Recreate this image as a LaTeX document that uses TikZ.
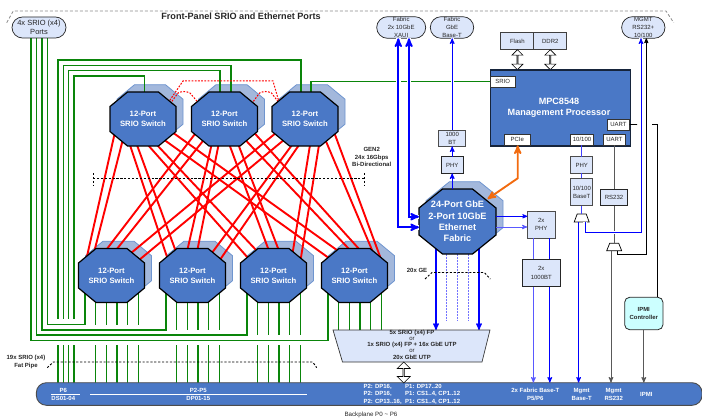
\documentclass[tikz,border=0pt]{standalone}
\usepackage{fontspec}
\setmainfont{Liberation Sans}
\usetikzlibrary{arrows,backgrounds,shapes.misc,shapes.arrows}
\definecolor{swblue}{HTML}{4A78C6}
\definecolor{shblue}{HTML}{A3B8DC}
\definecolor{shedge}{HTML}{6F95CF}
\definecolor{boxblue}{HTML}{DCE6FA}
\definecolor{srgreen}{HTML}{0A850A}
\definecolor{ipmicyan}{HTML}{CCFFFF}
\definecolor{pcorange}{HTML}{F26B0F}
\tikzset{
  treebox/.style = {inner sep=0pt, outer sep=0pt, align=center, text=black!85},
  sw_n/.style = {treebox, rectangle, minimum width=66pt, minimum height=54pt, text=white,
    font=\fontsize{7.7}{10}\selectfont\bfseries},% text of a switch
  fab_n/.style = {sw_n, minimum width=77pt, minimum height=65pt,
    font=\fontsize{9.2}{11.2}\selectfont\bfseries},
  oct_f/.style = {draw=black, line width=1.2pt, fill=swblue},% front of a switch
  oct_s/.style = {draw=shedge, line width=.8pt, fill=shblue},% shadow of a switch
  portbox/.style = {treebox, rounded rectangle, draw=black!85, line width=.7pt, fill=boxblue},
  portlabel/.style = {align=center, inner sep=0pt, text=black!85,
    font=\fontsize{6}{8.2}\selectfont},
  lbox/.style = {treebox, rectangle, draw=black!70, line width=1pt, fill=boxblue,
    font=\fontsize{6}{8.2}\selectfont},
  ibox/.style = {treebox, rectangle, draw=black!80, line width=.8pt, fill=white,
    minimum height=11pt, font=\fontsize{6}{8}\selectfont},
  muxbox/.style = {treebox, rectangle, minimum width=15pt},
  muxline/.style = {draw=black, line width=.7pt, fill=white},
  updown/.style = {double arrow, draw=black, line width=.6pt, fill=white, inner sep=0pt,
    outer sep=0pt, rotate=90, minimum height=20pt, minimum width=11pt,
    double arrow head extend=2.6pt, double arrow head indent=0pt},
  note/.style = {align=center, inner sep=0pt, text=black!85,
    font=\fontsize{6}{7.2}\selectfont\bfseries},
  busnote/.style = {align=center, inner sep=0pt, text=white,
    font=\fontsize{6}{7.4}\selectfont\bfseries},
  srgl/.style = {draw=srgreen, line width=1.25pt},
  srred/.style = {draw=red, line width=1.9pt},
  redlink/.style = {draw=red, line width=1pt, dash pattern=on 1.8pt off 1.4pt},
  cut/.style = {draw=black, line width=.95pt, dash pattern=on 2.2pt off 1.7pt},
  halo/.style = {preaction={draw=white, line width=#1, -}},
  thickb/.style = {draw=blue, line width=1.9pt, <->, >=stealth'},
  thinb/.style = {draw=blue, line width=1pt, ->, >=stealth'},
  greyl/.style = {draw=black!65, line width=1pt}
}
% style, centre, half width, half height, half top edge, half side edge
\newcommand{\octagon}[6]{
  \draw [#1] ([shift={(-#5,-#4)}]#2) -- ([shift={(#5,-#4)}]#2) -- ([shift={(#3,-#6)}]#2)
    -- ([shift={(#3,#6)}]#2) -- ([shift={(#5,#4)}]#2) -- ([shift={(-#5,#4)}]#2)
    -- ([shift={(-#3,#6)}]#2) -- ([shift={(-#3,-#6)}]#2) -- cycle;
}

\begin{document}
\begin{tikzpicture}[x=1pt,y=-1pt]
  \useasboundingbox (0,0) rectangle (702,420);

  % switches, front row and back row
  \foreach \name/\x in {t1/143,t2/224.5,t3/305}
    \node [sw_n] (\name) at (\x,119) {12-Port\\SRIO Switch};
  \foreach \name/\x in {b1/111.5,b2/192.5,b3/273.5,b4/354.5}
    \node [sw_n] (\name) at (\x,275.5) {12-Port\\SRIO Switch};
  \node [fab_n] (fabric) at (457.5,221.5) {24-Port GbE\\2-Port 10GbE\\Ethernet\\Fabric};

  % nodes of the upper edge
  \node [portbox, minimum width=54pt, minimum height=21pt, font=\fontsize{7.5}{9}\selectfont] (port) at (39,27.5)
    {4x SRIO (x4)\\Ports};
  \node [portbox, minimum width=49pt, minimum height=21.6pt,
    label={[portlabel]center:Fabric\\2x 10GbE\\XAUI}] (xaui) at (401.2,27.5) {};
  \node [portbox, minimum width=43.4pt, minimum height=21.6pt,
    label={[portlabel]center:Fabric\\GbE\\Base-T}] (gbet) at (452,27.5) {};
  \node [portbox, minimum width=43.4pt, minimum height=21.6pt,
    label={[portlabel]center:MGMT\\RS232+\\10/100}] (mgmt) at (643.3,27.5) {};
  \node [note, font=\fontsize{9.1}{10}\selectfont\bfseries] (title) at (241,16) {Front-Panel SRIO and Ethernet Ports};
  \coordinate (ea) at (6.7,22.7);
  \coordinate (eb) at (673.7,22.7);
  \draw [draw=black!45, line width=.8pt, densely dashed] (ea) -- (13.3,11) -- (666,11) -- (eb);

  % processor
  \node [lbox, draw=black!75, minimum width=33.3pt, minimum height=16.6pt] (flash) at (517.4,41) {Flash};
  \node [lbox, draw=black!75, minimum width=33.3pt, minimum height=16.6pt] (ddr) at (550.3,41) {DDR2};
  \node [updown] (hflash) at (517.4,59.7) {};
  \node [updown] (hddr) at (550.3,59.7) {};
  \node [treebox, rectangle, draw=black!70!swblue, line width=1.1pt, fill=swblue, text=white,
    minimum width=140.3pt, minimum height=76pt] (mpc) at (560.2,108) {};
  \node [note, font=\fontsize{9.1}{10.8}\selectfont\bfseries, text=white] (mpctext) at (559,107.5)
    {MPC8548\\Management Processor};
  \node [ibox, minimum width=24.3pt] (srio) at (502.8,81.6) {SRIO};
  \node [ibox, minimum width=25.7pt] (pcie) at (517.2,139.8) {PCIe};
  \node [ibox, minimum width=22.6pt] (eth) at (582,139.8) {10/100};
  \node [ibox, minimum width=22.4pt] (uartb) at (614.5,139.8) {UART};
  \node [ibox, minimum width=22.4pt] (uartr) at (618.5,124.5) {UART};

  % small boxes
  \node [lbox, minimum width=27pt, minimum height=16.3pt] (bt) at (452.2,138.2) {1000\\BT};
  \node [lbox, draw=black!85, minimum width=21.7pt, minimum height=16.6pt] (phya) at (452.2,165) {PHY};
  \node [lbox, minimum width=22pt, minimum height=16.6pt] (phyb) at (581.7,165) {PHY};
  \node [lbox, minimum width=22pt, minimum height=27.4pt] (base) at (581.7,192) {10/100\\BaseT};
  \node [lbox, draw=black!85, minimum width=27.4pt, minimum height=16.4pt] (rs) at (614,197.5) {RS232};
  \node [lbox, minimum width=27.7pt, minimum height=27pt] (phyc) at (541.2,224.5) {2x\\PHY};
  \node [lbox, draw=black!85, minimum width=38pt, minimum height=27.4pt] (btc) at (541.3,273) {2x\\1000BT};
  \node [muxbox, minimum height=8pt] (muxa) at (581.7,218) {};
  \node [muxbox, minimum height=7.5pt] (muxb) at (614.2,247) {};
  \draw [muxline] ([xshift=3pt]muxa.north west) -- ([xshift=-3pt]muxa.north east) -- (muxa.south east) -- (muxa.south west) -- cycle;
  \draw [muxline] ([xshift=3pt]muxb.north west) -- ([xshift=-3pt]muxb.north east) -- (muxb.south east) -- (muxb.south west) -- cycle;
  \node [treebox, rectangle, rounded corners=5pt, draw=black!85, line width=.8pt, fill=ipmicyan,
    minimum width=38.3pt, minimum height=32.4pt, font=\fontsize{5.9}{7.4}\selectfont\bfseries] (ipmi) at (643.8,313.5) {IPMI\\Controller};

  % backplane
  \node [treebox, rectangle, rounded corners=10pt, draw=black!70, line width=.9pt, fill=swblue,
    minimum width=665.7pt, minimum height=22.6pt] (bus) at (369.2,394) {};
  \node [muxbox, minimum width=157pt, minimum height=32pt] (mux) at (411.5,346) {};
  \draw [muxline, draw=black!80, fill=boxblue] (mux.north west) -- (mux.north east) -- ([xshift=-8pt]mux.south east) -- ([xshift=9.5pt]mux.south west) -- cycle;
  \node [note, font=\fontsize{6}{6.2}\selectfont\bfseries] (muxtext) at (412,344.6)
    {5x SRIO (x4) FP\\{\mdseries or}\\1x SRIO (x4) FP + 16x GbE UTP\\{\mdseries or}\\[.6pt]20x GbE UTP};
  \node [updown, minimum height=21pt, minimum width=13pt] (hbus) at (403.7,372.5) {};

  \begin{scope}[on background layer]
    \foreach \name in {t1,t2,t3,b1,b2,b3,b4} {
      \coordinate (\name s) at ([shift={(7,-7.3)}]\name.center);
      \octagon{oct_s}{\name s}{33}{27}{15.5}{12.5}
    }
    \coordinate (fabrics) at ([shift={(7,-7.3)}]fabric.center);
    \octagon{oct_s}{fabrics}{38.5}{32.5}{15}{13.5}

    % green links
    \foreach \dx/\ly/\to/\ex in {-8/340.7/b4/-26.5,-2.3/335/b3/-26.5,3/330/b2/-26.5,8.3/324.3/b1/-26.5}
      \draw [srgl] ([xshift=\dx pt]port.south) |- ([shift={(\ex,\ly-275.5)}]\to.center) -- ([xshift=\ex pt]\to.center);
    \foreach \dx/\ly/\to/\ex in {58/60/t3/-4,63.3/65.3/t2/6.5,68.7/70.7/t2/-4.5,74/76/t1/1.7} {
      \draw [srgl] ([xshift=\ex pt]\to.center) |- (\dx,\ly) -- (\dx,319.3);
      \draw [srgl] (\dx,345) -- (\dx,383);
    }
    \draw [srgl] ([xshift=6pt]t3.center) |- (srio.west);
    \foreach \s/\len in {b1/49.2,b2/54.5,b3/59.5,b4/54.5}
      \foreach \dx in {-16,-5.3,5.5,16.3,27.3}
        \draw [srgl] ([xshift=\dx pt]\s.center) -- ++(0,\len);
    \foreach \s in {b1,b2,b3}
      \foreach \dx in {-16,-5.3,5.5,16.3,27.3}
        \draw [srgl] ([shift={(\dx,69.5)}]\s.center) -- ++(0,38);

    % full mesh between the two rows
    \foreach \t/\ea/\eya/\eb/\eyb in {t1/-25/-17/-17/-25,t2/-5/-26/5/-26,t3/19/-22/27/-15}
      \foreach \b/\sa/\sya/\sb/\syb in {b1/-28/13/-20/20,b2/-13/26/-6/26,b3/5/26/14/26,b4/20/20/29/13} {
        \draw [srred] ([shift={(\sa,\sya)}]\t.center) -- ([shift={(\ea,\eya)}]\b.center);
        \draw [srred] ([shift={(\sb,\syb)}]\t.center) -- ([shift={(\eb,\eyb)}]\b.center);
      }

    % links between the switches of the back row
    \coordinate (la) at ([shift={(25,-16)}]t1.center);
    \coordinate (lb) at ([shift={(-26,-17)}]t3.center);
    \draw [redlink] (la) -- (183,81) -- (273,81) -- (lb);
    \draw [redlink] ([shift={(27,-15)}]t1.center) -- (178,93) .. controls (182,91) and (186,91) .. (190,93) -- ([shift={(-26,-16)}]t2.center);
    \draw [redlink] ([shift={(27,-15)}]t2.center) -- (259.5,93) .. controls (263.5,91) and (267.5,91) .. (271.5,93) -- ([shift={(-26,-16)}]t3.center);

    % fabric to the backplane mux
    \foreach \dx in {-10.8,.2,10.8}
      \draw [draw=blue!55, line width=.5pt, densely dotted] ([shift={(\dx,20)}]fabric.center) -- ++(0,79);
    \foreach \dx in {-21.5,21.5}
      \draw [thinb, line width=1.35pt] ([xshift=\dx pt]fabric.center) -- ([xshift=\dx pt]fabric.center |- mux.north);

    % switch bodies go over their links
    \foreach \name in {t1,t2,t3,b1,b2,b3,b4} {
      \octagon{oct_f}{\name.center}{33}{27}{15.5}{12.5}
    }
    \octagon{oct_f}{fabric.center}{38.5}{32.5}{15}{13.5}
  \end{scope}

  % fabric links
  \draw [thickb, halo=4.4pt] ([xshift=-2.9pt]xaui.south) |- ([yshift=-5.8pt]fabric.west);
  \draw [thickb, halo=4.4pt] ([xshift=7.8pt]xaui.south) |- ([yshift=4.8pt]fabric.west);
  \draw [thinb, halo=3pt] (bt.north) -- (bt.north |- gbet.south);
  \draw [thinb] (phya.north) -- (bt.south);
  \draw [thinb] ([xshift=-5.3pt]fabric.north) -- (phya.south);
  \coordinate (oe) at (517.7,178.3);
  \coordinate (of) at (487.5,199);
  \draw [draw=pcorange, line width=1.9pt, <->, >=stealth'] (of) -- (oe) -- (oe |- pcie.south);
  \draw [thinb, line width=.8pt] ([yshift=5.2pt]fabric.east) -- ([yshift=8.2pt]phyc.west);
  \draw [thinb, draw=blue!65, line width=.9pt] ([yshift=-5.5pt]fabric.east) -- ([yshift=-2.5pt]phyc.west);
  \foreach \dx/\shade in {-7.9/65,8.5/100} {
    \draw [draw=blue!\shade, line width=1pt] ([xshift=\dx pt]phyc.south) -- ([xshift=\dx pt]phyc.south |- btc.north);
    \draw [thinb, draw=blue!\shade] ([xshift=\dx pt]btc.south) -- ([xshift=\dx pt]btc.south |- bus.north);
  }

  % management links
  \coordinate (mb) at (641,232.3);
  \coordinate (mk) at (646.3,254);
  \coordinate (ua) at (637,124.6);
  \coordinate (ub) at (652,124.6);
  \coordinate (uc) at (657.3,124.6);
  \draw [draw=blue!75, line width=1pt] (phyb.north |- eth.south) -- (phyb.north);
  \draw [draw=blue!75, line width=1pt] (phyb.south) -- (base.north);
  \draw [draw=blue!75, line width=1pt] (base.south) -- (muxa.north);
  \draw [thinb] ([xshift=-3.1pt]muxa.south) -- ([xshift=-3.1pt]muxa.south |- bus.north);
  \draw [greyl] (rs.north |- uartb.south) -- (rs.north);
  \draw [greyl] (rs.south) -- (rs.south |- muxb.north);
  \draw [greyl, ->, >=stealth'] ([xshift=-3.2pt]muxb.south) -- ([xshift=-3.2pt]muxb.south |- bus.north);
  \draw [thinb, halo=3.5pt] ([xshift=3.4pt]muxa.south) |- (mb) -- (mb |- mgmt.south);
  \draw [draw=black, line width=.8pt, ->, >=stealth'] ([xshift=3.5pt]muxb.south) |- (mk) -- (mk |- mgmt.south);
  \draw [draw=black, line width=.8pt] (uartr.east) -- (ua);
  \draw [draw=black, line width=.8pt] (ub) -- (uc) -- (uc |- ipmi.north);
  \draw [greyl, ->, >=stealth'] (ipmi.south) -- (ipmi.south |- bus.north);

  % dashed cuts
  \coordinate (ga) at (93,178.7);
  \coordinate (gb) at (364,178.7);
  \draw [cut] (ga) -- (gb);
  \draw [cut] (93,173) -- (93,185);
  \draw [cut] (364,173) -- (364,185);
  \draw [cut] (425,279) -- (432,272.5) -- (484.3,272.5) -- (490.3,279);
  \draw [cut] (47.3,367.7) -- (53.3,362) -- (312.7,362) -- (316.7,367.7);

  % labels
  \node [note] (gen) at (371.7,157) {GEN2\\24x 16Gbps\\Bi-Directional};
  \node [note] (ge) at (417,270) {20x GE};
  \node [note, font=\fontsize{6}{8}\selectfont\bfseries] (pipe) at (26,362) {19x SRIO (x4)\\Fat Pipe};
  \node [note, font=\fontsize{6.2}{8}\selectfont] (back) at (371,415.3) {Backplane P0 \textasciitilde{} P6};

  % backplane labels
  \node [busnote] (pa) at (63.3,394.3) {P6\\DS01-04};
  \node [busnote] (pb) at (198.3,394.3) {P2-P5\\DP01-15};
  \coordinate (ra) at (51,394);
  \coordinate (rb) at (80,394);
  \coordinate (rc) at (90.3,394);
  \coordinate (rd) at (306.7,394);
  \draw [draw=white, line width=.6pt] (ra) -- (rb);
  \draw [draw=white, line width=.6pt] (rc) -- (rd);
  \foreach \x/\a/\b/\c in {363.3/{P2: DP16,}/{P2: DP16,}/{P2: CP13..16,},405/{P1: DP17..20}/{P1: CS1..4, CP1..12}/{P1: CS1..4, CP1..12}} {
    \node [busnote, anchor=west] at (\x,386.7) {\a};
    \node [busnote, anchor=west] at (\x,393.7) {\b};
    \node [busnote, anchor=west] at (\x,401.7) {\c};
  }
  \node [busnote] (pc) at (535.3,394.3) {2x Fabric Base-T\\P5/P6};
  \node [busnote] (pd) at (581.7,394.3) {Mgmt\\Base-T};
  \node [busnote] (pe) at (613.7,394.3) {Mgmt\\RS232};
  \node [busnote] (pf) at (646.3,394) {IPMI};
\end{tikzpicture}
\end{document}
